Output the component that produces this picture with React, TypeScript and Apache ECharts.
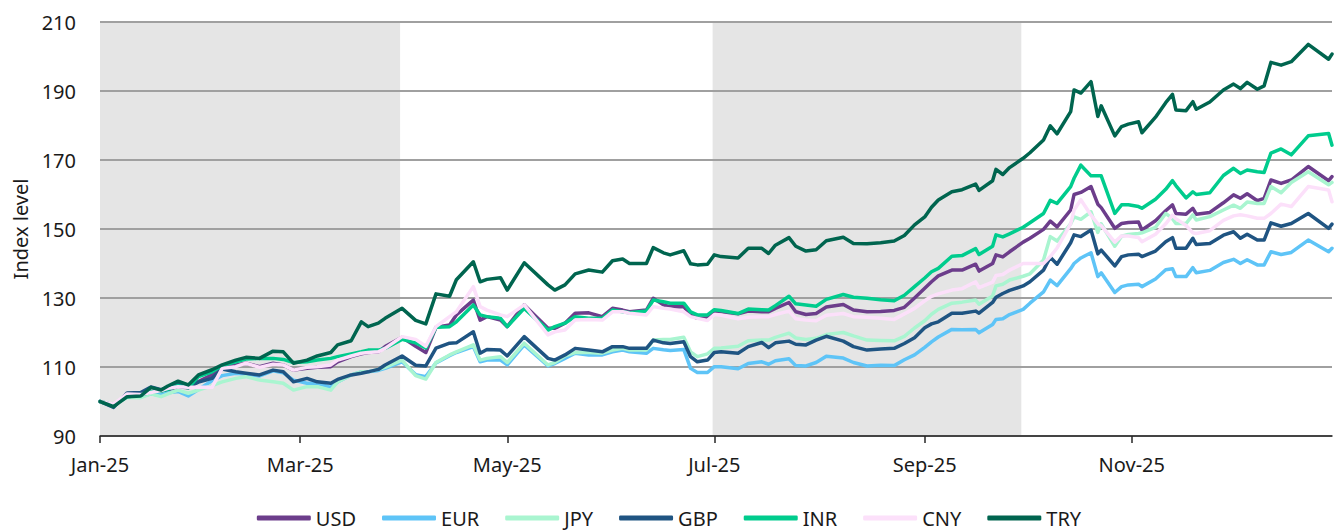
import React, { useEffect, useRef } from "react";
import * as echarts from "echarts";

const dates = [
  "2025-01-01","2025-01-05","2025-01-09","2025-01-13","2025-01-16","2025-01-19","2025-01-21","2025-01-24","2025-01-27","2025-01-30",
  "2025-02-03","2025-02-06","2025-02-10","2025-02-13","2025-02-17","2025-02-21","2025-02-24","2025-02-27","2025-03-03","2025-03-06",
  "2025-03-10","2025-03-12","2025-03-16","2025-03-19","2025-03-21","2025-03-24","2025-03-26","2025-03-31","2025-04-04","2025-04-07",
  "2025-04-10","2025-04-14","2025-04-16","2025-04-21","2025-04-23","2025-04-25","2025-04-29","2025-05-01","2025-05-06","2025-05-13",
  "2025-05-15","2025-05-18","2025-05-21","2025-05-25","2025-05-29","2025-06-01","2025-06-04","2025-06-06","2025-06-11","2025-06-13",
  "2025-06-16","2025-06-18","2025-06-22","2025-06-24","2025-06-26","2025-06-29","2025-07-01","2025-07-03","2025-07-08","2025-07-11",
  "2025-07-15","2025-07-17","2025-07-19","2025-07-23","2025-07-25","2025-07-28","2025-07-31","2025-08-03","2025-08-08","2025-08-11",
  "2025-08-15","2025-08-19","2025-08-23","2025-08-26","2025-08-29","2025-09-01","2025-09-03","2025-09-05","2025-09-09","2025-09-12",
  "2025-09-16","2025-09-17","2025-09-21","2025-09-22","2025-09-24","2025-09-26","2025-09-30","2025-10-02","2025-10-06","2025-10-08",
  "2025-10-10","2025-10-14","2025-10-15","2025-10-17","2025-10-20","2025-10-22","2025-10-23","2025-10-27","2025-10-29","2025-10-31",
  "2025-11-03","2025-11-04","2025-11-08","2025-11-11","2025-11-13","2025-11-14","2025-11-17","2025-11-19","2025-11-20","2025-11-24",
  "2025-11-28","2025-12-01","2025-12-03","2025-12-05","2025-12-08","2025-12-10","2025-12-12","2025-12-15","2025-12-18","2025-12-23",
  "2025-12-29","2025-12-30"
];

const USD = [
  100,99,101.6,101.8,102.6,103,103.4,104.3,104,105.8,
  107.7,110.1,110.6,111.1,110.1,111.1,110.6,109.1,109.6,109.9,
  110.1,111.5,113,113.8,114.2,114.4,115.9,118.6,116,114.2,
  121.5,122.2,125.1,129.4,123.6,124.6,123.6,121.7,128,121.2,
  121.2,122.7,125.6,125.7,124.6,127,126.5,126,126.5,129.9,
  128,127.5,127.5,125.1,124.1,124.3,126.3,126.1,125.4,126.2,
  126,126,127,128.7,126,125.2,125.5,127.4,128.1,126.5,
  126,126.1,126.4,127.3,130,132.8,134.7,136.4,138.1,138.1,
  139.8,137.8,140,142.5,141.9,143.4,146.2,147.3,149.9,152.3,
  150.6,155.5,160,160.6,162.3,157.2,156.2,150.2,151.6,151.9,
  152,149.7,152.4,155.3,157,154.5,154.3,156,154.3,154.8,
  157.6,159.9,158.9,160.2,158.2,158.9,164.2,163.2,164.2,168.1,
  164,165.2
];

const EUR = [
  100,99,101.3,101.4,102.2,101.9,102.5,102.9,101.6,103.5,
  106,107.5,108.2,108,107.4,108.9,108.3,106.2,105.3,105.3,
  104.1,105.7,107.7,108.6,108.6,109,109.6,111.5,107.8,107.2,
  111.2,113.3,114.2,115.9,111.5,112,112,110.6,116.4,110.3,
  111,112.5,114,113.5,113.5,114.4,114.9,114.4,114,115.4,
  115,114.8,115.1,109.6,108.4,108.4,110.1,110.1,109.5,111,
  111.5,110.8,111.8,112.4,110.4,110.3,111.3,113.1,112.6,111.3,
  110.3,110.5,110.4,112.1,113.5,115.7,117.3,118.7,120.9,120.8,
  120.9,119.9,122.3,123.8,124,125.2,126.7,128.5,131.8,135.2,
  133.6,138.5,140,141.6,143.1,136.2,137.3,131.6,133.3,133.8,
  134,133.3,135.5,138.2,138.5,136.2,136.2,138.8,137.3,138,
  140.3,141.2,140,141.1,139.6,139.6,143.4,142.6,143.2,146.8,
  143.4,144.4
];

const JPY = [
  100,99,101.2,101.1,102.2,101.4,102.2,103.3,102.4,103.3,
  104.6,105.7,106.7,107.2,106.2,105.7,105.3,103.3,104.3,104.3,
  103.3,105.7,107.7,108.6,108.6,109.3,109.9,112,107.5,106.5,
  111.3,113.5,114.4,116.4,112,112.5,113,111.3,116.9,110.6,
  111.3,113.2,114.2,114.2,114,114.9,115.4,114.9,114.9,117.8,
  118,118,118.6,114.4,113,113.8,115.4,115.5,116,117.6,
  117.8,117.8,118.6,119.8,118.4,118,118.3,119.4,120,119,
  117.8,117.7,117.6,118.9,121.3,123.4,125.3,126.7,128.5,128.8,
  129.4,128.2,130.6,133.5,134,135.2,136.3,137,141,147.8,
  146.5,151.5,153.5,152.8,155,149,151.5,145,147.9,148.4,
  148.7,148.9,150.5,154.5,153,151.6,151.6,154.1,152.6,153.6,
  155.5,156.9,156,157.8,157.4,157.4,162.3,160.5,163.5,166.6,
  162.8,163.5
];

const GBP = [
  100,98.3,102.5,102.6,104.2,103.4,104.2,105.2,104.3,105.6,
  106.7,109.4,108.6,108.2,107.7,109.1,108.6,105.7,106.7,105.7,
  105.3,106.4,107.7,108.2,108.6,109.3,110.6,113.2,110.5,110.3,
  115.5,116.9,117,120.2,114,115.1,114.9,113.2,118.8,112.5,
  112,113.5,115.4,114.9,114.4,115.9,115.9,115.4,115.4,117.8,
  117,116.8,117.3,113,111.5,112,114.2,114.4,114,115.9,
  117.1,115.6,117,117.5,116.6,116.4,117.8,118.9,117.5,115.9,
  114.9,115.2,115.4,116.8,118.5,121.4,122.5,123.1,125.6,125.6,
  126.2,125.6,128.7,130.2,131.3,132.2,133.5,134.7,138.1,141.8,
  139.8,146,148.3,147.8,149.7,142.8,143.9,139.3,142,142.5,
  142.7,142,143.6,146.3,147.5,144.4,144.4,147.3,145.5,145.8,
  148.2,149.2,147.3,148.5,146.8,146.8,151.8,150.8,151.6,154.5,
  150.2,151.4
];

const INR = [
  100,99,101.4,101.8,102.8,103,103.5,104.6,104,107.2,
  108.6,110.4,111.5,112.3,112.5,112.5,112.2,111.3,111.5,112,
  112.5,113,113.8,114.4,114.9,114.9,115.4,118,117,115.5,
  121.5,121.7,123.1,128,125.1,124.6,124.1,121.7,127,120.7,
  121.7,122.7,124.6,124.1,124.1,126.5,126,125.7,126.2,129.4,
  128.9,128.5,128.5,126,125.1,125.1,126.6,126.4,125.5,126.8,
  126.6,126.5,127.8,130.5,128.3,128,127.6,129.6,131,130.2,
  129.9,129.5,129.2,130.8,133.3,135.8,137.6,138.6,142.1,142.3,
  144.3,142.6,145,148.3,147.7,148.6,150.5,151.8,154.5,158.3,
  157.4,162.3,164.7,168.5,165.4,165.4,165.4,154.5,157,157,
  156.5,156,158.6,161.5,164,162.6,159,160.8,160,160.5,
  165.5,167.6,166.1,167.1,166.6,166.4,172,173.2,171.5,177,
  177.7,174.3
];

const CNY = [
  100,99.2,102.2,102,102.6,103.2,103.8,104.3,104.1,104.1,
  104.1,109.6,110.1,111.1,109.9,110.8,110.6,109.1,109.9,110.1,
  110.6,112,113.2,114,114.2,114.4,115.4,118.8,118,116,
  121.7,124.6,126,133.3,127.5,126.5,125.1,124.6,128,119.3,
  120.2,120.7,123.6,123.8,123.6,126,126,125.6,125.1,127.5,
  127,126.8,126,124.6,124.1,123.5,125.2,125,124,124.4,
  124.6,124.6,125.2,126.2,124,123.6,123.4,125,125.5,124.6,
  124.4,124.1,123.8,125.4,127,129.2,130.5,131.2,132.3,132.7,
  134.7,133,134.6,136.5,136.8,138.1,140,140,140,142,
  144.5,151.5,155.5,158.5,154,151.5,151,146.2,148,148,
  147.5,146.3,148.5,151.5,154,153,151,148.9,148.7,149.5,
  152.5,153.8,154.1,153.8,153.1,153.1,154.5,157.2,156.5,162.3,
  161.3,157.9
];

const TRY = [
  100,98.5,101.4,101.6,104.1,103.3,104.5,105.9,104.8,107.7,
  109.2,110.6,112,112.8,112.5,114.6,114.4,111.1,112,113.2,
  114.2,116.4,117.6,123.1,121.7,122.7,124.1,127,123.5,122.5,
  131.2,130.5,135.3,140.5,134.7,135.4,135.9,132.3,140.2,133.8,
  132.3,133.8,137,138.1,137.5,140.8,141.3,140,140,144.6,
  143.1,142.5,143.7,139.9,139.6,139.8,142.5,142,141.6,144.4,
  144.4,142.9,145.3,147.5,145,143.6,144,146.6,147.6,145.8,
  145.7,146,146.5,148.1,151.2,153.5,156.3,158.4,160.8,161.4,
  163,161.2,164,167.3,165.8,167.8,170.5,172.1,175.8,179.9,
  177.6,184,190.3,189.4,192.7,182.6,185.7,177,179.7,180.4,
  181.1,177.9,182.4,186.6,189,184.5,184.3,186.9,184.7,186.8,
  190.3,192,190.7,192.5,190.5,191.5,198.3,197.5,198.5,203.5,
  199.2,200.7
];

const seriesNames = ["USD", "EUR", "JPY", "GBP", "INR", "CNY", "TRY"];
const seriesValues = [USD, EUR, JPY, GBP, INR, CNY, TRY];
const seriesColors = ["#6c3d8b", "#5ec4f7", "#a9f5d0", "#1f5482", "#00cc8d", "#fce0fa", "#00654f"];

const xTickDates = ["2025-01-01", "2025-03-01", "2025-05-01", "2025-07-01", "2025-09-01", "2025-11-01"];
const xTickLabels = ["Jan-25", "Mar-25", "May-25", "Jul-25", "Sep-25", "Nov-25"];
const xRange = ["2025-01-01", "2025-12-30"];
const shadedPeriods = [
  ["2025-01-01T00", "2025-03-30T10"],
  ["2025-06-30T12", "2025-09-29T11"],
];

// day offset from the start of the x range (days, UTC based)
function toDay(s: string): number {
  const [datePart, timePart] = s.split("T");
  const [y, m, d] = datePart.split("-").map(Number);
  const h = timePart ? Number(timePart) : 0;
  const t = Date.UTC(y, m - 1, d, h);
  const [y0, m0, d0] = xRange[0].split("-").map(Number);
  return (t - Date.UTC(y0, m0 - 1, d0)) / 86400000;
}

const FONT = "Noto Sans";
const TEXT = "#1a1a1a";

export default function App() {
  const ref = useRef<HTMLDivElement>(null);

  useEffect(() => {
    if (!ref.current) return;
    const chart = echarts.init(ref.current, undefined, { renderer: "svg" });
    const tickDays = xTickDates.map(toDay);

    const lineSeries = seriesNames.map((name, si) => ({
      name,
      type: "line",
      z: 3,
      symbol: "none",
      showSymbol: false,
      smooth: false,
      lineStyle: { color: seriesColors[si], width: 3.5, join: "round", cap: "round" },
      itemStyle: { color: seriesColors[si] },
      data: dates.map((d, i) => [toDay(d), seriesValues[si][i]]),
    }));

    const option: any = {
      animation: false,
      textStyle: { fontFamily: FONT },
      grid: { left: 100, right: 6, top: 22, bottom: 94, containLabel: false },
      xAxis: {
        type: "value",
        min: toDay(xRange[0]),
        max: toDay(xRange[1]),
        z: 4,
        axisLine: { show: true, lineStyle: { color: "#262626", width: 1.5 } },
        axisTick: {
          show: true,
          customValues: tickDays,
          length: 7,
          lineStyle: { color: "#262626", width: 1.5 },
        },
        axisLabel: {
          customValues: tickDays,
          fontFamily: FONT,
          fontSize: 20,
          color: TEXT,
          margin: 18,
          formatter: (v: number) => {
            const idx = tickDays.indexOf(v);
            return idx >= 0 ? xTickLabels[idx] : "";
          },
        },
        splitLine: { show: false },
      },
      yAxis: {
        type: "value",
        min: 90,
        max: 210,
        interval: 20,
        z: 2,
        name: "Index level",
        nameLocation: "middle",
        nameGap: 70,
        nameTextStyle: { fontFamily: FONT, fontSize: 20, color: TEXT },
        axisLine: { show: false },
        axisTick: { show: false },
        axisLabel: { fontFamily: FONT, fontSize: 20, color: TEXT, margin: 24 },
        splitLine: { show: true, lineStyle: { color: "#a0a0a0", width: 2 } },
      },
      legend: {
        data: seriesNames,
        top: 503,
        left: "center",
        icon: "roundRect",
        itemWidth: 54,
        itemHeight: 5,
        itemGap: 26,
        textStyle: { fontFamily: FONT, fontSize: 20, color: TEXT },
      },
      series: [
        {
          type: "line",
          z: 1,
          silent: true,
          data: [],
          markArea: {
            silent: true,
            itemStyle: { color: "#e5e5e5" },
            data: shadedPeriods.map(([a, b]) => [{ xAxis: toDay(a) }, { xAxis: toDay(b) }]),
          },
        },
        ...lineSeries,
      ],
    };

    chart.setOption(option);
    return () => chart.dispose();
  }, []);

  return (
    <div
      ref={ref}
      style={{ position: "absolute", left: 0, top: 0, width: 1338, height: 530, background: "#ffffff" }}
    />
  );
}
